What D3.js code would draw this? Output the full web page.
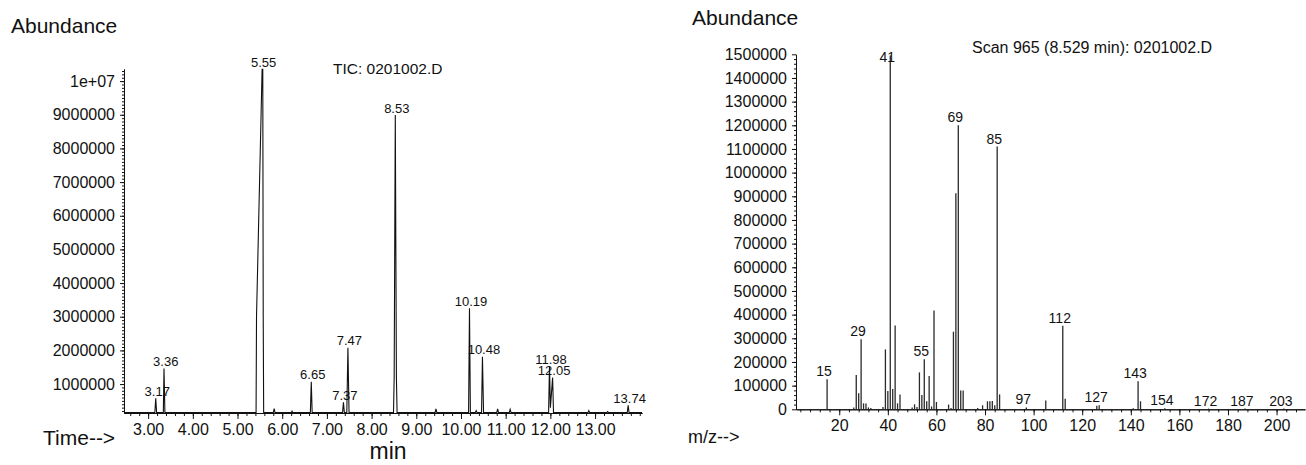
<!DOCTYPE html>
<html>
<head>
<meta charset="utf-8">
<script src="https://cdn.jsdelivr.net/npm/d3@7"></script>
<style>
  body { margin: 0; background: #fff; }
  svg text { font-family: "Liberation Sans", Arial, Helvetica, sans-serif; fill: #111; }
</style>
</head>
<body>
<div id="plot"></div>
<script>
// ---- TIC chromatogram (left) ----
const ticTime = [2.46, 3.15, 3.17, 3.19, 3.34, 3.355, 3.375, 5.415, 5.425, 5.55, 5.565, 5.575, 5.585,
  5.80, 5.82, 5.84, 6.21, 6.22, 6.23, 6.63, 6.65, 6.67, 7.35, 7.37, 7.39, 7.445, 7.47, 7.495,
  8.49, 8.505, 8.53, 8.555, 8.57, 9.42, 9.44, 9.46, 10.17, 10.19, 10.21, 10.32, 10.34, 10.36,
  10.46, 10.48, 10.505, 10.80, 10.82, 10.84, 11.08, 11.10, 11.12, 11.96, 11.98, 12.00, 12.05, 12.07,
  12.84, 12.86, 12.88, 13.26, 13.28, 13.30, 13.72, 13.74, 13.76, 14.05];
const ticAbund = [150000, 150000, 580000, 150000, 150000, 1460000, 150000, 150000, 3000000, 10350000, 10350000, 3000000, 150000,
  150000, 270000, 150000, 150000, 210000, 150000, 150000, 1070000, 150000, 150000, 460000, 150000, 150000, 2080000, 150000,
  150000, 1200000, 8990000, 1200000, 150000, 150000, 260000, 150000, 150000, 3250000, 150000, 150000, 210000, 150000,
  150000, 1810000, 150000, 150000, 260000, 150000, 150000, 250000, 150000, 150000, 1535000, 300000, 1190000, 150000,
  150000, 210000, 150000, 150000, 180000, 150000, 150000, 370000, 150000, 150000];
const ticPeakTimes = [3.17, 3.36, 5.55, 6.65, 7.37, 7.47, 8.53, 10.19, 10.48, 11.98, 12.05, 13.74];
const ticXTicks = [3, 4, 5, 6, 7, 8, 9, 10, 11, 12, 13];
const ticYTicks = [1000000, 2000000, 3000000, 4000000, 5000000, 6000000, 7000000, 8000000, 9000000, 10000000];

// ---- Mass spectrum, scan 965 (right) ----
const msMz = [15, 26, 27, 28, 29, 30, 31, 32, 33, 38, 39, 40, 41, 42, 43, 44, 45, 50, 51, 52, 53, 54, 55, 56, 57, 58, 59, 60,
  65, 66, 67, 68, 69, 70, 71, 77, 79, 81, 82, 83, 84, 85, 86, 97, 105, 112, 113, 126, 127, 141, 143, 144, 154, 172, 187, 203];
const msAbund = [127000, 8000, 145000, 68000, 296000, 25000, 25000, 8000, 5000, 10000, 253000, 77000, 1495000, 86000, 354000, 25000, 63000,
  8000, 21000, 10000, 156000, 60000, 211000, 34000, 141000, 12000, 417000, 31000,
  20000, 5000, 328000, 913000, 1200000, 79000, 79000, 5000, 17000, 34000, 34000, 35000, 17000, 1110000, 63000,
  8000, 37000, 353000, 45000, 15000, 17000, 4000, 118000, 34000, 4000, 3000, 3000, 3000];
const msLabels = [15, 29, 41, 55, 69, 85, 97, 112, 127, 143, 154, 172, 187, 203];
const msXTicks = [20, 40, 60, 80, 100, 120, 140, 160, 180, 200];
const msYTicks = [0, 100000, 200000, 300000, 400000, 500000, 600000, 700000, 800000, 900000, 1000000,
  1100000, 1200000, 1300000, 1400000, 1500000];

const width = 1306, height = 465;
const font = '"Liberation Sans", Arial, Helvetica, sans-serif';

const svg = d3.select("#plot").append("svg")
  .attr("width", width)
  .attr("height", height);

svg.append("rect").attr("width", width).attr("height", height).attr("fill", "#fff");

function styleAxis(g, size) {
  g.attr("font-size", size).attr("font-family", font);
  g.selectAll("path.domain").attr("stroke", "#111");
  g.selectAll(".tick line").attr("stroke", "#111");
  g.selectAll(".tick text").attr("fill", "#111");
}

// ================= left: TIC =================
const xL = d3.scaleLinear().domain([2.46, 14.05]).range([124, 642]);
const yL = d3.scaleLinear().domain([140000, 10360000]).range([413, 69]);

// minor ticks
svg.append("g")
  .attr("transform", "translate(0,413)")
  .call(d3.axisBottom(xL).tickValues(d3.range(2.6, 14.01, 0.2)).tickSize(3).tickFormat("").tickSizeOuter(0))
  .call(g => styleAxis(g, 16));
svg.append("g")
  .attr("transform", "translate(124,0)")
  .call(d3.axisLeft(yL).tickValues(d3.range(200000, 10360000, 100000)).tickSize(2).tickFormat("").tickSizeOuter(0))
  .call(g => styleAxis(g, 16));

svg.append("g")
  .attr("transform", "translate(0,413)")
  .call(d3.axisBottom(xL).tickValues(ticXTicks).tickSize(6).tickPadding(5)
    .tickFormat(d3.format(".2f")).tickSizeOuter(0))
  .call(g => styleAxis(g, 16));
svg.append("g")
  .attr("transform", "translate(124,0)")
  .call(d3.axisLeft(yL).tickValues(ticYTicks).tickSize(4).tickPadding(5)
    .tickFormat(d => d === 10000000 ? "1e+07" : d3.format("d")(d)).tickSizeOuter(0))
  .call(g => styleAxis(g, 16));

const ticData = ticTime.map((t, i) => [t, ticAbund[i]]);
svg.append("path")
  .datum(ticData)
  .attr("fill", "none")
  .attr("stroke", "#111")
  .attr("stroke-width", 1.1)
  .attr("d", d3.line().x(d => xL(d[0])).y(d => yL(d[1])));

// peak labels, placed above each apex
svg.selectAll(".tic-label")
  .data(ticPeakTimes)
  .join("text")
  .attr("class", "tic-label")
  .attr("x", t => xL(t) + 1.5)
  .attr("y", t => {
    const top = d3.max(ticData.filter(d => Math.abs(d[0] - t) < 0.025), d => d[1]);
    return yL(top) - 2.5;
  })
  .attr("text-anchor", "middle")
  .attr("font-size", 13)
  .text(t => d3.format(".2f")(t));

svg.append("text").attr("x", 11).attr("y", 33).attr("font-size", 21).text("Abundance");
svg.append("text").attr("x", 333).attr("y", 74).attr("font-size", 15.5).text("TIC: 0201002.D");
svg.append("text").attr("x", 43).attr("y", 445).attr("font-size", 21).text("Time-->");
svg.append("text").attr("x", 388).attr("y", 459).attr("font-size", 23).attr("text-anchor", "middle").text("min");

// ================= right: mass spectrum =================
const xR = d3.scaleLinear().domain([2.2, 211.7]).range([796, 1305]);
const yR = d3.scaleLinear().domain([0, 1500000]).range([409.3, 54.3]);

svg.append("g")
  .attr("transform", "translate(0,409.3)")
  .call(d3.axisBottom(xR).tickValues(d3.range(4, 211, 4)).tickSize(3).tickFormat("").tickSizeOuter(0))
  .call(g => styleAxis(g, 16));
svg.append("g")
  .attr("transform", "translate(796,0)")
  .call(d3.axisLeft(yR).tickValues(d3.range(20000, 1500000, 20000)).tickSize(2).tickFormat("").tickSizeOuter(0))
  .call(g => styleAxis(g, 16));

svg.append("g")
  .attr("transform", "translate(0,409.3)")
  .call(d3.axisBottom(xR).tickValues(msXTicks).tickSize(6).tickPadding(4.5).tickSizeOuter(0))
  .call(g => styleAxis(g, 16));
svg.append("g")
  .attr("transform", "translate(796,0)")
  .call(d3.axisLeft(yR).tickValues(msYTicks).tickSize(4).tickPadding(5)
    .tickFormat(d3.format("d")).tickSizeOuter(0))
  .call(g => styleAxis(g, 16));

const msData = msMz.map((m, i) => ({ mz: m, ab: msAbund[i] }));
svg.selectAll(".ms-bar")
  .data(msData)
  .join("line")
  .attr("class", "ms-bar")
  .attr("x1", d => xR(d.mz))
  .attr("x2", d => xR(d.mz))
  .attr("y1", yR(0))
  .attr("y2", d => yR(d.ab))
  .attr("stroke", "#2a2a2a")
  .attr("stroke-width", 1.3);

svg.selectAll(".ms-label")
  .data(msLabels)
  .join("text")
  .attr("class", "ms-label")
  .attr("x", m => xR(m) - 3)
  .attr("y", m => {
    const d = msData.find(e => e.mz === m);
    return Math.max(yR(d.ab) - 3, 62);   // top peak label is kept inside the frame
  })
  .attr("text-anchor", "middle")
  .attr("font-size", 14)
  .text(m => m);

svg.append("text").attr("x", 692).attr("y", 25).attr("font-size", 21).text("Abundance");
svg.append("text").attr("x", 972).attr("y", 52.5).attr("font-size", 16).text("Scan 965 (8.529 min): 0201002.D");
svg.append("text").attr("x", 688).attr("y", 443).attr("font-size", 18).text("m/z-->");
</script>
</body>
</html>
